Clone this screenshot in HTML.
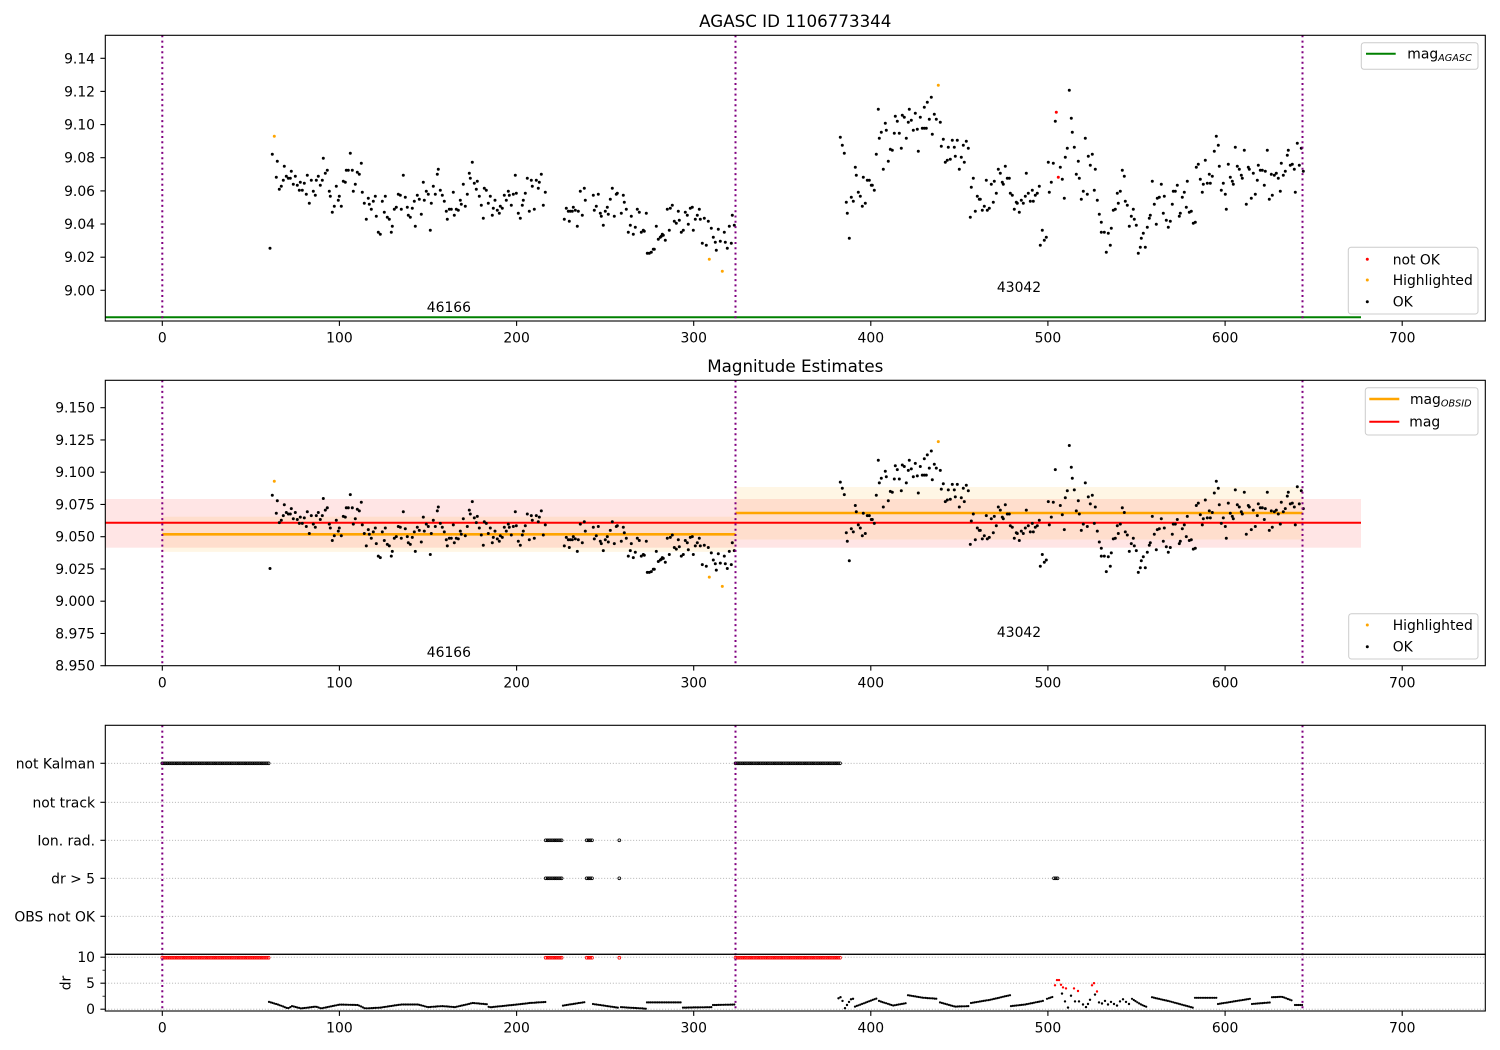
<!DOCTYPE html>
<html><head><meta charset="utf-8">
<style>
html,body{margin:0;padding:0;background:#fff;}
svg{display:block;}
text{font-family:"DejaVu Sans","Liberation Sans",sans-serif;fill:#000;font-size:13.9px;}
</style></head><body>
<svg id="s" width="1500" height="1050" viewBox="0 0 1500 1050" xmlns="http://www.w3.org/2000/svg">
<rect x="0" y="0" width="1500" height="1050" fill="#fff"/>

<!-- ============ PANEL 1 ============ -->
<text x="795.3" y="27" text-anchor="middle" style="font-size:16.7px">AGASC ID 1106773344</text>
<line x1="105.3" y1="317.3" x2="1361" y2="317.3" stroke="#008000" stroke-width="2"/>
<g id="p1"></g>
<text x="448.9" y="312" text-anchor="middle">46166</text>
<text x="1019" y="292" text-anchor="middle">43042</text>
<g stroke="#800080" stroke-width="2" stroke-dasharray="2,3.3">
<line x1="162.3" y1="35.3" x2="162.3" y2="321"/>
<line x1="735.5" y1="35.3" x2="735.5" y2="321"/>
<line x1="1302.5" y1="35.3" x2="1302.5" y2="321"/>
</g>
<rect x="105.3" y="35.3" width="1380" height="285.7" fill="none" stroke="#000" stroke-width="1.1"/>
<g stroke="#000" stroke-width="1.1">
<line x1="100.4" y1="58.3" x2="105.3" y2="58.3"/><line x1="100.4" y1="91.4" x2="105.3" y2="91.4"/>
<line x1="100.4" y1="124.6" x2="105.3" y2="124.6"/><line x1="100.4" y1="157.7" x2="105.3" y2="157.7"/>
<line x1="100.4" y1="190.9" x2="105.3" y2="190.9"/><line x1="100.4" y1="224" x2="105.3" y2="224"/>
<line x1="100.4" y1="257.2" x2="105.3" y2="257.2"/><line x1="100.4" y1="290.3" x2="105.3" y2="290.3"/>
<line x1="162.3" y1="321" x2="162.3" y2="325.9"/><line x1="339.4" y1="321" x2="339.4" y2="325.9"/>
<line x1="516.6" y1="321" x2="516.6" y2="325.9"/><line x1="693.7" y1="321" x2="693.7" y2="325.9"/>
<line x1="870.8" y1="321" x2="870.8" y2="325.9"/><line x1="1047.9" y1="321" x2="1047.9" y2="325.9"/>
<line x1="1225.1" y1="321" x2="1225.1" y2="325.9"/><line x1="1402.2" y1="321" x2="1402.2" y2="325.9"/>
</g>
<g text-anchor="end">
<text x="95" y="63.3">9.14</text><text x="95" y="96.4">9.12</text><text x="95" y="129.6">9.10</text>
<text x="95" y="162.7">9.08</text><text x="95" y="195.9">9.06</text><text x="95" y="229">9.04</text>
<text x="95" y="262.2">9.02</text><text x="95" y="295.3">9.00</text>
</g>
<g text-anchor="middle">
<text x="162.3" y="342.6">0</text><text x="339.4" y="342.6">100</text><text x="516.6" y="342.6">200</text>
<text x="693.7" y="342.6">300</text><text x="870.8" y="342.6">400</text><text x="1047.9" y="342.6">500</text>
<text x="1225.1" y="342.6">600</text><text x="1402.2" y="342.6">700</text>
</g>
<!-- legends panel 1 -->
<rect x="1361.3" y="42.7" width="116.7" height="26.6" rx="2.8" fill="#fff" fill-opacity="0.8" stroke="#cccccc" stroke-width="1"/>
<line x1="1366" y1="53.8" x2="1395.7" y2="53.8" stroke="#008000" stroke-width="2"/>
<text x="1407.3" y="58.5">mag<tspan style="font-size:9.7px;font-style:italic" dy="2.5">AGASC</tspan></text>
<rect x="1348.3" y="247.3" width="129.7" height="66.7" rx="2.8" fill="#fff" fill-opacity="0.8" stroke="#cccccc" stroke-width="1"/>
<circle cx="1367.3" cy="259.3" r="1.5" fill="#ff0000"/>
<circle cx="1367.3" cy="280" r="1.5" fill="#ffa500"/>
<circle cx="1367.3" cy="301.7" r="1.5" fill="#000"/>
<text x="1392.7" y="264.3">not OK</text>
<text x="1392.7" y="285">Highlighted</text>
<text x="1392.7" y="306.7">OK</text>

<!-- ============ PANEL 2 ============ -->
<text x="795.3" y="372" text-anchor="middle" style="font-size:16.7px">Magnitude Estimates</text>
<rect x="105.3" y="499" width="1255.7" height="48.7" fill="#ff0000" fill-opacity="0.1"/>
<rect x="162.3" y="516.7" width="573.2" height="35.2" fill="#ffa500" fill-opacity="0.1"/>
<rect x="735.5" y="487" width="567" height="52.5" fill="#ffa500" fill-opacity="0.1"/>
<line x1="105.3" y1="522.7" x2="1361" y2="522.7" stroke="#ff0000" stroke-width="2"/>
<line x1="162.3" y1="534.3" x2="735.5" y2="534.3" stroke="#ffa500" stroke-width="2.6"/>
<line x1="735.5" y1="513" x2="1302.5" y2="513" stroke="#ffa500" stroke-width="2.6"/>
<g id="p2"></g>
<text x="448.9" y="657" text-anchor="middle">46166</text>
<text x="1019" y="637" text-anchor="middle">43042</text>
<g stroke="#800080" stroke-width="2" stroke-dasharray="2,3.3">
<line x1="162.3" y1="380.3" x2="162.3" y2="665.7"/>
<line x1="735.5" y1="380.3" x2="735.5" y2="665.7"/>
<line x1="1302.5" y1="380.3" x2="1302.5" y2="665.7"/>
</g>
<rect x="105.3" y="380.3" width="1380" height="285.4" fill="none" stroke="#000" stroke-width="1.1"/>
<g stroke="#000" stroke-width="1.1">
<line x1="100.4" y1="407.7" x2="105.3" y2="407.7"/><line x1="100.4" y1="439.95" x2="105.3" y2="439.95"/>
<line x1="100.4" y1="472.2" x2="105.3" y2="472.2"/><line x1="100.4" y1="504.45" x2="105.3" y2="504.45"/>
<line x1="100.4" y1="536.7" x2="105.3" y2="536.7"/><line x1="100.4" y1="568.95" x2="105.3" y2="568.95"/>
<line x1="100.4" y1="601.2" x2="105.3" y2="601.2"/><line x1="100.4" y1="633.45" x2="105.3" y2="633.45"/>
<line x1="100.4" y1="665.7" x2="105.3" y2="665.7"/>
<line x1="162.3" y1="665.7" x2="162.3" y2="670.6"/><line x1="339.4" y1="665.7" x2="339.4" y2="670.6"/>
<line x1="516.6" y1="665.7" x2="516.6" y2="670.6"/><line x1="693.7" y1="665.7" x2="693.7" y2="670.6"/>
<line x1="870.8" y1="665.7" x2="870.8" y2="670.6"/><line x1="1047.9" y1="665.7" x2="1047.9" y2="670.6"/>
<line x1="1225.1" y1="665.7" x2="1225.1" y2="670.6"/><line x1="1402.2" y1="665.7" x2="1402.2" y2="670.6"/>
</g>
<g text-anchor="end">
<text x="95" y="412.7">9.150</text><text x="95" y="444.95">9.125</text><text x="95" y="477.2">9.100</text>
<text x="95" y="509.45">9.075</text><text x="95" y="541.7">9.050</text><text x="95" y="573.95">9.025</text>
<text x="95" y="606.2">9.000</text><text x="95" y="638.45">8.975</text><text x="95" y="670.7">8.950</text>
</g>
<g text-anchor="middle">
<text x="162.3" y="687.3">0</text><text x="339.4" y="687.3">100</text><text x="516.6" y="687.3">200</text>
<text x="693.7" y="687.3">300</text><text x="870.8" y="687.3">400</text><text x="1047.9" y="687.3">500</text>
<text x="1225.1" y="687.3">600</text><text x="1402.2" y="687.3">700</text>
</g>
<rect x="1365.3" y="387.7" width="112.7" height="47.3" rx="2.8" fill="#fff" fill-opacity="0.8" stroke="#cccccc" stroke-width="1"/>
<line x1="1369.3" y1="399" x2="1399.3" y2="399" stroke="#ffa500" stroke-width="2.6"/>
<line x1="1369.3" y1="421.7" x2="1399.3" y2="421.7" stroke="#ff0000" stroke-width="2"/>
<text x="1410" y="404">mag<tspan style="font-size:9.7px;font-style:italic" dy="2.5">OBSID</tspan></text>
<text x="1409.3" y="426.7">mag</text>
<rect x="1348.7" y="613.7" width="129.3" height="45.3" rx="2.8" fill="#fff" fill-opacity="0.8" stroke="#cccccc" stroke-width="1"/>
<circle cx="1367.3" cy="625" r="1.5" fill="#ffa500"/>
<circle cx="1367.3" cy="646.7" r="1.5" fill="#000"/>
<text x="1392.7" y="630">Highlighted</text>
<text x="1392.7" y="651.7">OK</text>

<!-- ============ PANEL 3 (flags) ============ -->
<g stroke="#b0b0b0" stroke-width="0.8" stroke-dasharray="1.1,1.8">
<line x1="105.3" y1="763.3" x2="1485.3" y2="763.3"/>
<line x1="105.3" y1="802.3" x2="1485.3" y2="802.3"/>
<line x1="105.3" y1="840.3" x2="1485.3" y2="840.3"/>
<line x1="105.3" y1="878.3" x2="1485.3" y2="878.3"/>
<line x1="105.3" y1="916.3" x2="1485.3" y2="916.3"/>
<line x1="105.3" y1="957.2" x2="1485.3" y2="957.2"/>
<line x1="105.3" y1="983.2" x2="1485.3" y2="983.2"/>
<line x1="105.3" y1="1009.2" x2="1485.3" y2="1009.2"/>
</g>
<g id="p3"></g>
<g stroke="#800080" stroke-width="2" stroke-dasharray="2,3.3">
<line x1="162.3" y1="725.3" x2="162.3" y2="1011"/>
<line x1="735.5" y1="725.3" x2="735.5" y2="1011"/>
<line x1="1302.5" y1="725.3" x2="1302.5" y2="1011"/>
</g>
<rect x="105.3" y="725.3" width="1380" height="229" fill="none" stroke="#000" stroke-width="1.1"/>
<rect x="105.3" y="954.3" width="1380" height="56.7" fill="none" stroke="#000" stroke-width="1.1"/>
<g stroke="#000" stroke-width="1.1">
<line x1="100.4" y1="763.3" x2="105.3" y2="763.3"/><line x1="100.4" y1="802.3" x2="105.3" y2="802.3"/>
<line x1="100.4" y1="840.3" x2="105.3" y2="840.3"/><line x1="100.4" y1="878.3" x2="105.3" y2="878.3"/>
<line x1="100.4" y1="916.3" x2="105.3" y2="916.3"/>
<line x1="100.4" y1="957.2" x2="105.3" y2="957.2"/><line x1="100.4" y1="983.2" x2="105.3" y2="983.2"/>
<line x1="100.4" y1="1009.2" x2="105.3" y2="1009.2"/>
<line x1="102.5" y1="970.2" x2="105.3" y2="970.2" stroke-width="0.8"/><line x1="102.5" y1="996.2" x2="105.3" y2="996.2" stroke-width="0.8"/>
<line x1="162.3" y1="1011" x2="162.3" y2="1015.9"/><line x1="339.4" y1="1011" x2="339.4" y2="1015.9"/>
<line x1="516.6" y1="1011" x2="516.6" y2="1015.9"/><line x1="693.7" y1="1011" x2="693.7" y2="1015.9"/>
<line x1="870.8" y1="1011" x2="870.8" y2="1015.9"/><line x1="1047.9" y1="1011" x2="1047.9" y2="1015.9"/>
<line x1="1225.1" y1="1011" x2="1225.1" y2="1015.9"/><line x1="1402.2" y1="1011" x2="1402.2" y2="1015.9"/>
</g>
<g text-anchor="end">
<text x="95" y="768.3">not Kalman</text>
<text x="95" y="807.3">not track</text>
<text x="95" y="845.3">Ion. rad.</text>
<text x="95" y="883.3">dr &gt; 5</text>
<text x="95" y="921.3">OBS not OK</text>
<text x="95" y="962.2">10</text>
<text x="95" y="988.2">5</text>
<text x="95" y="1014.2">0</text>
</g>
<text transform="translate(70.5,983) rotate(-90)" text-anchor="middle">dr</text>
<g text-anchor="middle">
<text x="162.3" y="1032.6">0</text><text x="339.4" y="1032.6">100</text><text x="516.6" y="1032.6">200</text>
<text x="693.7" y="1032.6">300</text><text x="870.8" y="1032.6">400</text><text x="1047.9" y="1032.6">500</text>
<text x="1225.1" y="1032.6">600</text><text x="1402.2" y="1032.6">700</text>
</g>
</svg>
<script>
(function(){
var D="270,248.3 274.3,136.3,o 272.3,154.3 277.3,161.3 276.3,177.3 279.3,189.3 281.3,186.3 283.3,180.3 284.3,166.3 286.3,176.3 288.3,178.3 290.3,178.3 291.3,171.3 293.3,184.3 295.3,176.3 297.3,185.3 299.3,190.3 300.3,182.3 302.3,190.3 304.3,183.3 306.3,194.3 307.3,175.3 309.3,203.3 311.3,180.3 313.3,191.3 315.3,195.3 316.3,180.3 318.3,176.3 320.3,185.3 322.3,180.3 323.3,158.3 325.3,173.3 327.3,170.3 329.3,191.3 330.3,196.3 332.3,212.3 334.3,206.3 336.3,186.3 338.3,200.3 339.3,196.3 341.3,206.3 343.3,181.3 345.3,182.3 346.3,170.3 348.3,170.3 350.3,153.3 352.3,170.3 353.3,191.3 355.3,184.3 357.3,172.3 359.3,174.3 361.3,163.3 362.3,192.3 364.3,203.3 366.3,219.3 368.3,198.3 369.3,204.3 371.3,209.3 373.3,201.3 375.3,196.3 376.3,216.3 378.3,232.3 380.3,234.3 382.3,201.3 384.3,212.3 385.3,196.3 387.3,217.3 389.3,219.3 391.3,232.3 392.3,226.3 394.3,209.3 396.3,207.3 398.3,194.3 400.3,195.3 401.3,209.3 403.3,175.3 405.3,197.3 407.3,207.3 408.3,215.3 410.3,217.3 412.3,208.3 414.3,201.3 415.3,226.3 417.3,195.3 419.3,199.3 421.3,214.3 423.3,182.3 424.3,200.3 426.3,191.3 428.3,194.3 430.3,230.3 431.3,203.3 433.3,186.3 435.3,194.3 437.3,174.3 438.3,169.3 440.3,190.3 442.3,195.3 444.3,201.3 446.3,211.3 447.3,219.3 449.3,209.3 451.3,209.3 453.3,192.3 454.3,215.3 456.3,209.3 458.3,210.3 460.3,200.3 461.3,204.3 463.3,184.3 465.3,206.3 467.3,194.3 469.3,173.3 470.3,178.3 472.3,162.3 474.3,183.3 476.3,189.3 477.3,181.3 479.3,196.3 481.3,205.3 483.3,218.3 484.3,188.3 486.3,190.3 488.3,203.3 490.3,196.3 492.3,215.3 493.3,208.3 "
+"495,200.3 497.3,210.3 499.3,213.3 500.3,206.3 502.3,208.3 504.3,195.3 506.3,200.3 508.3,191.3 509.3,195.3 511.3,205.3 513.3,194.3 515.3,175.3 516.3,193.3 518.3,213.3 520.3,218.3 522.3,205.3 523.3,200.3 525.3,193.3 527.3,178.3 529.3,211.3 531.3,180.3 532.3,186.3 534.3,209.3 536.3,180.3 538.3,188.3 539.3,182.3 541.3,174.3 543.3,205.3 545.3,192.3 564.3,219.3 566.3,208.3 568.3,211.3 569.3,221.3 570.3,211.3 572.3,211.3 573.3,207.3 575.3,210.3 577.3,226.3 578.3,211.3 580.3,191.3 582.3,215.3 584.3,188.3 585.3,200.3 593.3,195.3 594.3,210.3 596.3,206.3 598.3,194.3 600.3,213.3 601.3,216.3 603.3,225.3 605.3,211.3 607.3,207.3 608.3,214.3 610.3,199.3 612.3,188.3 614.3,216.3 616.3,194.3 617.3,193.3 621.3,213.3 623.3,195.3 624.3,202.3 626.3,209.3 628.3,232.3 630.3,225.3 631.3,216.3 633.3,234.3 635.3,227.3 637.3,209.3 639.3,212.3 641.3,232.3 643.3,230.3 644.3,231.3 646.3,213.3 647.3,253.3 649.3,253.3 651.3,252.3 653.3,249.3 654.3,249.3 656.3,226.3 658.3,239.3 660.3,237.3 661.3,236.3 662.3,234.3 663.3,235.3 665.3,240.3 667.3,209.3 669.3,230.3 670.3,208.3 672.3,205.3 674.3,221.3 676.3,223.3 678.3,211.3 679.3,220.3 681.3,232.3 683.3,230.3 685.3,212.3 687.3,215.3 688.3,224.3 690.3,208.3 692.3,207.3 693.3,230.3 695.3,219.3 697.3,215.3 699.3,209.3 700.3,219.3 702.3,243.3 704.3,218.3 706.3,245.3 708.3,221.3 709.3,259.3,o 711.3,228.3 713.3,237.3 715.3,242.3 716.3,250.3 718.3,229.3 720.3,241.3 722.3,271.3,o 724.3,232.3 725.3,242.3 727.3,248.3 729.3,226.3 731.3,243.3 732.3,215.3 734.3,225.3 "
+"840.3,137.3 842.3,145.3 844.3,153.3 849.3,238.3 847.3,213.3 846.3,202.3 851.3,197.3 853.3,201.3 855.3,167.3 856.3,175.3 858.3,192.3 860.3,196.3 862.3,206.3 863.3,177.3 865.3,203.3 867.3,180.3 869.3,180.3 871.3,185.3 872.3,185.3 874.3,190.3 876.3,154.3 878.3,109.3 879.3,138.3 881.3,132.3 883.3,169.3 885.3,123.3 886.3,130.3 888.3,161.3 890.3,149.3 892.3,150.3 894.3,133.3 895.3,116.3 897.3,121.3 899.3,133.3 901.3,148.3 902.3,115.3 904.3,117.3 906.3,138.3 908.3,122.3 909.3,109.3 911.3,120.3 913.3,130.3 915.3,113.3 917.3,129.3 918.3,151.3 920.3,117.3 922.3,128.3 924.3,128.3 924.3,107.3 926.3,128.3 927.3,102.3 929.3,119.3 931.3,97.3 932.3,134.3 934.3,114.3 936.3,119.3 938.3,85.3,o 940.3,122.3 941.3,146.3 943.3,139.3 945.3,162.3 947.3,160.3 948.3,147.3 950.3,159.3 952.3,140.3 954.3,147.3 955.3,156.3 957.3,140.3 959.3,169.3 961.3,157.3 963.3,145.3 964.3,162.3 966.3,141.3 968.3,148.3 970.3,217.3 971.3,187.3 973.3,178.3 975.3,211.3 977.3,196.3 979.3,199.3 980.3,199.3 982.3,210.3 984.3,206.3 986.3,180.3 987.3,210.3 989.3,208.3 991.3,184.3 993.3,202.3 994.3,181.3 996.3,193.3 998.3,169.3 1000.3,173.3 1002.3,182.3 1003.3,184.3 1005.3,166.3 1007.3,178.3 1009.3,178.3 1010.3,193.3 1012.3,195.3 1014.3,209.3 1016.3,202.3 1017.3,203.3 1019.3,212.3 1021.3,200.3 1023.3,203.3 1025.3,196.3 1026.3,173.3 1028.3,193.3 1030.3,201.3 1032.3,190.3 1033.3,201.3 1035.3,195.3 1037.3,193.3 1039.3,186.3 1040.3,245.3 1042.3,230.3 1044.3,240.3 1046.3,237.3 1048.3,162.3 1049.3,192.3 1051.3,182.3 1053.3,163.3 1055.3,121.3 1056.3,112.3,r 1058.3,177.3,r 1060.3,167.3 1062.3,179.3 1064.3,198.3 1065.3,157.3 1067.3,148.3 1069.3,90.3 "
+"1071.3,118.3 1072.3,132.3 1074.3,147.3 1076.3,174.3 1078.3,161.3 1079.3,178.3 1081.3,199.3 1083.3,191.3 1085.3,138.3 1087.3,194.3 1088.3,156.3 1090.3,165.3 1092.3,154.3 1094.3,190.3 1095.3,169.3 1097.3,200.3 1099.3,214.3 1101.3,222.3 1101.3,232.3 1104.3,232.3 1106.3,252.3 1108.3,233.3 1110.3,245.3 1111.3,228.3 1113.3,210.3 1115.3,209.3 1117.3,193.3 1118.3,203.3 1120.3,191.3 1122.3,170.3 1124.3,176.3 1125.3,201.3 1127.3,205.3 1129.3,226.3 1131.3,216.3 1133.3,209.3 1134.3,219.3 1136.3,225.3 1138.3,253.3 1140.3,247.3 1141.3,238.3 1143.3,233.3 1145.3,247.3 1147.3,227.3 1149.3,218.3 1150.3,215.3 1152.3,181.3 1154.3,204.3 1156.3,224.3 1157.3,198.3 1159.3,197.3 1161.3,184.3 1163.3,213.3 1164.3,196.3 1166.3,220.3 1168.3,227.3 1170.3,221.3 1172.3,204.3 1173.3,191.3 1175.3,191.3 1177.3,185.3 1179.3,216.3 1180.3,213.3 1182.3,197.3 1184.3,192.3 1186.3,207.3 1187.3,181.3 1189.3,212.3 1191.3,211.3 1193.3,223.3 1195.3,222.3 1196.3,167.3 1198.3,164.3 1200.3,179.3 1202.3,192.3 1203.3,184.3 1205.3,160.3 1207.3,183.3 1209.3,174.3 1210.3,183.3 1212.3,176.3 1214.3,151.3 1216.3,136.3 1218.3,145.3 1219.3,166.3 1221.3,190.3 1223.3,183.3 1225.3,194.3 1226.3,209.3 1228.3,164.3 1230.3,177.3 1232.3,181.3 1233.3,184.3 1235.3,147.3 1237.3,166.3 1239.3,169.3 1241.3,175.3 1242.3,178.3 1244.3,150.3 1246.3,204.3 1248.3,167.3 1249.3,169.3 1251.3,198.3 1253.3,173.3 1255.3,194.3 1257.3,180.3 1258.3,165.3 1260.3,170.3 1262.3,170.3 1264.3,185.3 1265.3,171.3 1267.3,150.3 1269.3,199.3 1271.3,174.3 1272.3,195.3 1274.3,175.3 1276.3,173.3 1278.3,178.3 1280.3,191.3 1281.3,163.3 1283.3,175.3 1285.3,171.3 1287.3,155.3 1288.3,150.3 1290.3,165.3 1292.3,164.3 1294.3,169.3 1295.3,192.3 1297.3,143.3 1299.3,165.3 1301.3,148.3 1303.3,171.3";
var col={k:'#000',o:'#ffa500',r:'#ff0000'};
var pts=D.trim().split(/\s+/).map(function(t){var a=t.split(',');return [+a[0],+a[1],a[2]||'k'];});
var h1='',h2='',h1c='',h2c='';
pts.forEach(function(p){
  var x=p[0],y=p[1],c=p[2];
  var s='<circle cx="'+x+'" cy="'+y+'" r="1.5" fill="'+col[c]+'"/>';
  if(c==='k')h1+=s;else h1c+=s;
  if(c!=='r'){var y2=(420.6+(y-58.3)*0.7785).toFixed(1);
    var s2='<circle cx="'+x+'" cy="'+y2+'" r="1.5" fill="'+col[c]+'"/>';
    if(c==='k')h2+=s2;else h2c+=s2;}
});
document.getElementById('p1').innerHTML=h1+h1c;
document.getElementById('p2').innerHTML=h2+h2c;

var out='';
var STEP=1.771;
function ydr(d){return (1009.2-d*5.2).toFixed(1);}
function seg(kp){
  var x0=kp[0][0],x1=kp[kp.length-1][0];
  for(var x=x0;x<=x1+0.01;x+=STEP){
    var i=0;while(i<kp.length-2&&x>kp[i+1][0])i++;
    var a=kp[i],b=kp[i+1]||kp[i];
    var t=b[0]>a[0]?(x-a[0])/(b[0]-a[0]):0;t=Math.max(0,Math.min(1,t));
    var d=a[1]+(b[1]-a[1])*t;
    out+='<circle cx="'+x.toFixed(1)+'" cy="'+ydr(d)+'" r="1.1" fill="#000"/>';
  }
}
function pt(x,d,c){out+='<circle cx="'+x+'" cy="'+ydr(d)+'" r="1.2" fill="'+(c||'#000')+'"/>';}
function row(x0,x1,y,c){
  for(var x=x0;x<=x1+0.01;x+=STEP){
    out+='<circle cx="'+x.toFixed(1)+'" cy="'+y+'" r="1.4" fill="none" stroke="'+c+'" stroke-width="0.8"/>';
  }
}
// dr curve, obs 1
seg([[269,1.4],[278,0.9],[288,0.15],[292,0.6],[301,0.15],[316,0.5],[321,0.15],[340,0.9],[358,0.8],[365,0.15],[380,0.3],[401,0.9],[418,0.9],[428,0.4],[442,0.6],[455,0.4],[473,1.2],[487,0.95],[489,0.35],[517,0.9],[530,1.2],[546,1.4]]);
seg([[563,0.7],[586,1.4]]);
seg([[593,1.0],[618,0.3]]);
seg([[621,0.4],[646,0.1]]);
seg([[647,1.3],[682,1.3]]);
seg([[683,0.3],[712,0.4]]);
seg([[713,0.8],[735,0.9]]);
// dr curve, obs 2
pt(838.5,2.1);pt(840.5,2.3);pt(842.5,1.6);pt(845,0.2);pt(847,0.8);pt(849,1.4);pt(851,1.9);pt(853,2.0);
seg([[855,0.5],[866,1.3],[877,2.1]]);
seg([[879,1.6],[893,0.7],[907,1.2]]);
seg([[908,2.7],[923,2.2],[938,2.0]]);
seg([[940,1.3],[955,0.5],[970,0.6]]);
seg([[971,1.2],[990,1.8],[1010,2.7]]);
seg([[1011,0.6],[1025,0.9],[1043,1.6]]);
seg([[1047,2.0],[1053,2.4]]);
[[1062,3.0],[1065,1.5],[1068,0.3],[1071,2.6],[1075,1.5],[1079,1.5],[1083,0.9],[1086,0.4],[1088,1.0],[1090,1.8],[1095,2.8],[1099,1.3],[1102,1.1],[1105,1.6],[1108,0.9],[1111,1.4],[1114,1.0],[1117,0.7],[1120,1.5],[1123,1.9],[1126,1.4],[1129,1.0]].forEach(function(p){pt(p[0],p[1]);});
[[1055,4.6],[1057,5.6],[1059,5.6],[1061,4.7],[1063,4.2],[1066,4.0],[1074,4.0],[1078,3.5],[1092,4.6],[1094,5.0],[1097,3.4]].forEach(function(p){pt(p[0],p[1],'#ff0000');});
seg([[1132,2.0],[1140,1.0],[1147,0.4]]);
seg([[1152,2.3],[1170,1.5],[1193,0.3]]);
seg([[1195,2.2],[1217,2.2]]);
seg([[1218,1.0],[1250,2.0]]);
seg([[1252,1.0],[1270,1.3]]);
seg([[1272,2.3],[1282,2.4],[1293,1.6]]);
seg([[1295,0.8],[1303,0.8]]);
// flag rows
row(162.3,269.5,763.3,'#000'); row(735.5,840.5,763.3,'#000');
row(545.7,563.3,840.3,'#000'); row(586.7,592.7,840.3,'#000'); row(619.3,619.3,840.3,'#000');
row(545.7,563.3,878.3,'#000'); row(586.7,592.7,878.3,'#000'); row(619.3,619.3,878.3,'#000'); row(1054,1058,878.3,'#000');
row(162.3,269.5,957.7,'#ff0000'); row(545.7,563.3,957.7,'#ff0000'); row(586.7,592.7,957.7,'#ff0000'); row(619.3,619.3,957.7,'#ff0000'); row(735.5,840.5,957.7,'#ff0000');
document.getElementById('p3').innerHTML=out;
})();
</script>
</body></html>
